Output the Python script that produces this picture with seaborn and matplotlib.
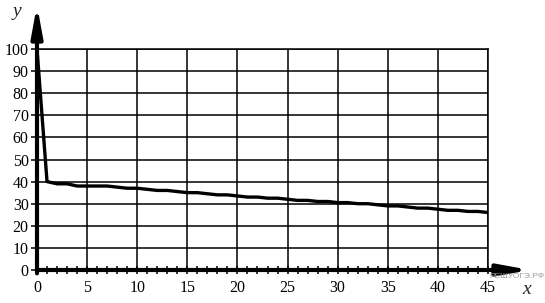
import matplotlib
matplotlib.use("Agg")
import matplotlib.pyplot as plt
import seaborn as sns
import numpy as np

# Data
x_vals = list(range(0, 46))
y_vals = [100, 40, 39, 39, 38, 38, 38, 38, 37.5, 37, 37, 36.5, 36, 36, 35.5, 35,
          35, 34.5, 34, 34, 33.5, 33, 33, 32.5, 32.5, 32, 31.5, 31.5, 31, 31,
          30.5, 30.5, 30, 30, 29.5, 29, 29, 28.5, 28, 28, 27.5, 27, 27, 26.5,
          26.5, 26]
x_major = [0, 5, 10, 15, 20, 25, 30, 35, 40, 45]
y_major = [0, 10, 20, 30, 40, 50, 60, 70, 80, 90, 100]

sns.set_style("white")
plt.rcParams['font.family'] = ['Liberation Serif', 'DejaVu Serif']

W, H = 545, 303
fig = plt.figure(figsize=(W / 100, H / 100), dpi=100)
x0p, x45p, y0p, y100p = 37, 488, 270, 49
ax = fig.add_axes([x0p / W, (H - y0p) / H, (x45p - x0p) / W, (y0p - y100p) / H])
ax.set_xlim(0, 45)
ax.set_ylim(0, 100)

# grid
ax.set_xticks(x_major)
ax.set_yticks(y_major)
ax.set_xticks(x_vals, minor=True)
ax.grid(True, which='major', color='black', lw=1.1)
ax.set_axisbelow(True)
for s in ['top', 'right']:
    ax.spines[s].set_visible(True)
    ax.spines[s].set_color('black')
    ax.spines[s].set_linewidth(1.1)
for s in ['left', 'bottom']:
    ax.spines[s].set_visible(False)

sns.lineplot(x=x_vals, y=y_vals, color='black', lw=2.4, ax=ax, zorder=5)
ax.set_xlabel('')
ax.set_ylabel('')

# axes arrows
ax.annotate('', xy=(0, 100 + (y100p - 5) / 2.21), xytext=(0, -1.5),
            xycoords='data', annotation_clip=False,
            arrowprops=dict(arrowstyle='-|>,head_length=1.8,head_width=0.33',
                            lw=3, color='black', shrinkA=0, shrinkB=0,
                            mutation_scale=10))
ax.annotate('', xy=(45 + (530 - x45p) / 10.02, 0), xytext=(0, 0),
            xycoords='data', annotation_clip=False,
            arrowprops=dict(arrowstyle='-|>,head_length=1.8,head_width=0.33',
                            lw=3, color='black', shrinkA=0, shrinkB=0,
                            mutation_scale=10))

ax.tick_params(axis='x', which='both', direction='inout', length=6, width=1.1,
               bottom=True, colors='black', labelsize=11.5, pad=4)
ax.tick_params(axis='y', which='major', direction='out', length=4, width=1.1,
               left=True, colors='black', labelsize=11.5, pad=2)
ax.tick_params(axis='x', which='minor', labelbottom=False)

fig.text(17 / W, 1 - 12 / H, 'y', style='italic', fontsize=14, ha='center', va='center')
fig.text(527 / W, 1 - 290 / H, 'x', style='italic', fontsize=14, ha='center', va='center')
fig.text(1 - 1 / W, 1 - 277 / H, 'РЕШУОГЭ.РФ', fontsize=6, color='#9a9a9a',
         family=['Liberation Sans', 'DejaVu Sans'], ha='right', va='center')

fig.savefig('out.png', dpi=100)
